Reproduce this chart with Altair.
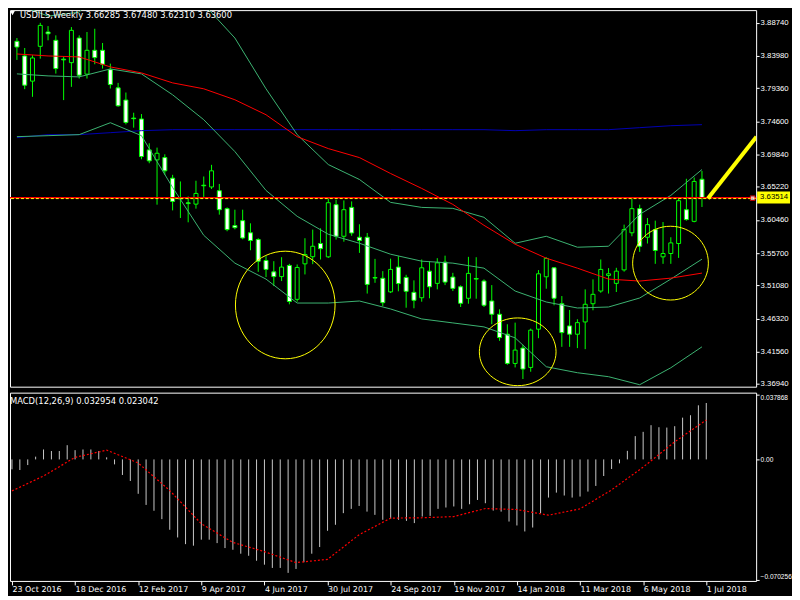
import altair as alt
import pandas as pd

FONT = "DejaVu Sans"
AXFONT = "Liberation Sans"

# ---------------- data ----------------
week_labels = ["23 Oct 2016", "18 Dec 2016", "12 Feb 2017", "9 Apr 2017", "4 Jun 2017",
               "30 Jul 2017", "24 Sep 2017", "19 Nov 2017", "14 Jan 2018", "11 Mar 2018",
               "6 May 2018", "1 Jul 2018"]

opens = [3.8606, 3.8396, 3.8035, 3.8534, 3.8739, 3.8620, 3.8350, 3.8300, 3.8653, 3.8135,
         3.8477, 3.8477, 3.8200, 3.7939, 3.7763, 3.7505, 3.7492, 3.7049, 3.6906, 3.6939,
         3.6644, 3.6355, 3.6290, 3.6272, 3.6543, 3.6518, 3.6464, 3.6207, 3.5964, 3.6035,
         3.5861, 3.5764, 3.5464, 3.5301, 3.5233, 3.5393, 3.4907, 3.5416, 3.5518, 3.5707,
         3.5516, 3.6264, 3.5811, 3.6225, 3.5797, 3.5797, 3.5220, 3.5209, 3.5014, 3.5369,
         3.5221, 3.5007, 3.4930, 3.5311, 3.5136, 3.5440, 3.5226, 3.5087, 3.4922, 3.5205,
         3.5169, 3.4883, 3.4693, 3.4407, 3.3988, 3.4208, 3.3931, 3.4479, 3.5230, 3.5359,
         3.4844, 3.4526, 3.4407, 3.4583, 3.4844, 3.5026, 3.5250, 3.5136, 3.5329, 3.5861,
         3.6207, 3.5797, 3.5907, 3.5516, 3.5564, 3.5707, 3.6192, 3.6025, 3.66285]

highs = [3.8653, 3.8510, 3.8406, 3.8871, 3.8824, 3.8691, 3.8382, 3.8810, 3.8691, 3.8739,
         3.8786, 3.8582, 3.8286, 3.8010, 3.7872, 3.7582, 3.7563, 3.7144, 3.7082, 3.6986,
         3.6692, 3.6597, 3.6382, 3.6607, 3.6668, 3.6835, 3.6561, 3.6225, 3.6192, 3.6192,
         3.5997, 3.5783, 3.5526, 3.5454, 3.5511, 3.5416, 3.5407, 3.5783, 3.5907, 3.5925,
         3.6354, 3.6335, 3.6325, 3.6311, 3.5983, 3.5858, 3.5487, 3.5311, 3.5490, 3.5526,
         3.5259, 3.5179, 3.5478, 3.5454, 3.5497, 3.5533, 3.5287, 3.5107, 3.5516, 3.5511,
         3.5193, 3.5111, 3.4764, 3.4550, 3.4573, 3.4255, 3.4487, 3.5326, 3.5511, 3.5369,
         3.4954, 3.4754, 3.4622, 3.5050, 3.5193, 3.5478, 3.5354, 3.5359, 3.5978, 3.6350,
         3.6264, 3.6073, 3.6035, 3.6015, 3.5797, 3.6358, 3.6635, 3.6654, 3.67480]

lows = [3.8339, 3.7920, 3.7810, 3.8357, 3.8620, 3.8143, 3.7763, 3.7953, 3.8072, 3.8072,
        3.8277, 3.8215, 3.7929, 3.7668, 3.7415, 3.7368, 3.6915, 3.6858, 3.6264, 3.6692,
        3.6182, 3.6073, 3.6011, 3.6207, 3.6372, 3.6489, 3.6121, 3.5883, 3.5911, 3.5768,
        3.5611, 3.5301, 3.5226, 3.5097, 3.5169, 3.4836, 3.4873, 3.5264, 3.5411, 3.5478,
        3.5501, 3.5764, 3.5733, 3.5818, 3.5573, 3.4990, 3.5144, 3.4812, 3.4997, 3.5022,
        3.4787, 3.4779, 3.4873, 3.4922, 3.5050, 3.5111, 3.5026, 3.4797, 3.4844, 3.4916,
        3.4797, 3.4550, 3.4312, 3.3969, 3.3931, 3.3765, 3.3869, 3.4350, 3.5059, 3.4822,
        3.4226, 3.4226, 3.4208, 3.4193, 3.4750, 3.5001, 3.4990, 3.5012, 3.5304, 3.5811,
        3.5587, 3.5707, 3.5416, 3.5416, 3.5416, 3.5501, 3.6035, 3.6011, 3.62310]

closes = [3.8524, 3.7977, 3.8367, 3.8834, 3.8714, 3.8215, 3.8340, 3.8763, 3.8120, 3.8477,
          3.8372, 3.8277, 3.7986, 3.7682, 3.7443, 3.7497, 3.6954, 3.6892, 3.7001, 3.6749,
          3.6311, 3.6345, 3.6280, 3.6425, 3.6535, 3.6749, 3.6192, 3.5907, 3.5935, 3.5787,
          3.5750, 3.5454, 3.5336, 3.5233, 3.5369, 3.4876, 3.5364, 3.5550, 3.5668, 3.5633,
          3.6292, 3.5811, 3.6192, 3.5858, 3.5750, 3.5121, 3.5212, 3.4859, 3.5336, 3.5133,
          3.5022, 3.4893, 3.5359, 3.5087, 3.5430, 3.5154, 3.5064, 3.4850, 3.5279, 3.5197,
          3.4822, 3.4693, 3.4359, 3.3988, 3.4179, 3.3908, 3.4465, 3.5273, 3.5493, 3.4922,
          3.4430, 3.4407, 3.4573, 3.4836, 3.4979, 3.5336, 3.5273, 3.5311, 3.5907, 3.6207,
          3.5668, 3.5978, 3.5607, 3.5564, 3.5716, 3.6321, 3.6050, 3.6597, 3.63600]

# indicator readings, every 4th week
ind_index = list(range(0, 89, 4))
ma_red = [3.8424, 3.8396, 3.8382, 3.8239, 3.8153, 3.8010, 3.7925, 3.7768, 3.7553, 3.7239,
          3.7068, 3.6939, 3.6711, 3.6497, 3.6268, 3.5968, 3.5697, 3.5497, 3.5354, 3.5197,
          3.5169, 3.5211, 3.5283]
ma_blue = [3.7225, 3.7268, 3.7268, 3.7296, 3.7325, 3.7339, 3.7339, 3.7339, 3.7339, 3.7339,
           3.7339, 3.7339, 3.7339, 3.7339, 3.7339, 3.7339, 3.7325, 3.7339, 3.7339, 3.7339,
           3.7368, 3.7396, 3.7411]
bb_upper = [3.9138, 3.8967, 3.9024, 3.9524, 3.9810, 3.9524, 3.9138, 3.8653, 3.7925, 3.7268,
            3.6839, 3.6625, 3.6297, 3.6225, 3.6211, 3.6083, 3.5711, 3.5811, 3.5654, 3.5668,
            3.6125, 3.6397, 3.6768]
bb_middle = [3.8139, 3.8110, 3.8096, 3.8210, 3.8139, 3.7839, 3.7482, 3.7025, 3.6468, 3.6097,
             3.5840, 3.5711, 3.5554, 3.5454, 3.5426, 3.5354, 3.5026, 3.4869, 3.4783, 3.4797,
             3.4926, 3.5197, 3.5483]
bb_lower = [3.7239, 3.7253, 3.7268, 3.7439, 3.7253, 3.6511, 3.5825, 3.5426, 3.5197, 3.4854,
            3.4854, 3.4883, 3.4769, 3.4626, 3.4569, 3.4512, 3.4355, 3.3941, 3.3855, 3.3798,
            3.3683, 3.3926, 3.4226]

macd_main = [-0.0058, -0.0062, -0.0033, 0.0016, 0.0058, 0.0049, 0.0049, 0.0083, 0.0054, 0.0058,
             0.0058, 0.0049, 0.0012, -0.0029, -0.0091, -0.0126, -0.0201, -0.0266, -0.0300, -0.0349,
             -0.0411, -0.0456, -0.0495, -0.0504, -0.0469, -0.0469, -0.0489, -0.0518, -0.0528, -0.0551,
             -0.0563, -0.0592, -0.0615, -0.0634, -0.0634, -0.0663, -0.0640, -0.0601, -0.0551, -0.0512,
             -0.0417, -0.0382, -0.0314, -0.0289, -0.0272, -0.0305, -0.0324, -0.0353, -0.0347, -0.0353,
             -0.0359, -0.0372, -0.0334, -0.0330, -0.0289, -0.0281, -0.0275, -0.0289, -0.0262, -0.0237,
             -0.0256, -0.0299, -0.0305, -0.0363, -0.0386, -0.0421, -0.0398, -0.0314, -0.0223, -0.0194,
             -0.0211, -0.0223, -0.0217, -0.0188, -0.0155, -0.0097, -0.0056, -0.0023, 0.0050, 0.0136,
             0.0161, 0.0200, 0.0188, 0.0186, 0.0194, 0.0244, 0.0258, 0.0316, 0.032954]
macd_signal = [-0.0184, -0.0097, 0.0012, 0.0054, -0.0021, -0.0182, -0.0376, -0.0485, -0.0539, -0.0603,
               -0.0584, -0.0440, -0.0343, -0.0341, -0.0334, -0.0287, -0.0293, -0.0326, -0.0289, -0.0178,
               -0.0045, 0.0103, 0.023042]

price_ticks = [3.88740, 3.83980, 3.79360, 3.74600, 3.69840, 3.65220, 3.60460,
               3.55700, 3.51080, 3.46320, 3.41560, 3.36940]
macd_ticks = [0.037868, 0.0, -0.070256]

bid_price = 3.63514
hline_price = 3.6363
header = "USDILS,Weekly  3.66285 3.67480 3.62310 3.63600"
macd_title = "MACD(12,26,9) 0.032954 0.023042"

# annotations (user drawings)
circle_x = [34.47, 64.33, 83.96]
circle_y = [3.4826, 3.4155, 3.5426]
circle_w = [100, 77, 76]
circle_h = [108, 68, 74]
trend_x = [88.76, 95.0]
trend_y = [3.6354, 3.7238]

# ---------------- frames ----------------
candles = pd.DataFrame({"i": list(range(len(opens))), "o": opens, "h": highs,
                        "l": lows, "c": closes})
candles["dir"] = ["up" if c > o else "down" for o, c in zip(opens, closes)]

ind = pd.DataFrame({"i": ind_index, "ma_red": ma_red, "ma_blue": ma_blue,
                    "bb_upper": bb_upper, "bb_middle": bb_middle, "bb_lower": bb_lower})

macd_df = pd.DataFrame({"i": list(range(len(macd_main))), "m": macd_main})
macd_df["zero"] = 0.0
sig_df = pd.DataFrame({"i": ind_index, "s": macd_signal})

shapes, sizes = [], []
for w, h in zip(circle_w, circle_h):
    d = max(w, h)
    rx, ry = w / d, h / d
    shapes.append(f"M{-rx:.3f},0A{rx:.3f},{ry:.3f} 0 1,0 {rx:.3f},0A{rx:.3f},{ry:.3f} 0 1,0 {-rx:.3f},0Z")
    sizes.append(d * d)
circ = pd.DataFrame({"x": circle_x, "y": circle_y, "shape": shapes, "size": sizes})

trend = pd.DataFrame({"x": [trend_x[0]], "x2": [trend_x[1]], "y": [trend_y[0]], "y2": [trend_y[1]]})

# ---------------- scales / axes ----------------
W = 749
xs = alt.Scale(domain=[-0.25, 94.32], nice=False, zero=False)
ys = alt.Scale(domain=[3.3655, 3.9053], nice=False, zero=False)
ms = alt.Scale(domain=[-0.0710, 0.0390], nice=False, zero=False)

PA = alt.Axis(orient="right", values=price_ticks, format=".5f", tickSize=3,
              tickColor="#FFFFFF", labelColor="#FFFFFF", labelFont=AXFONT,
              labelFontSize=7.8, labelPadding=1, domain=False, grid=False,
              title=None, labelOverlap=False)

date_expr = "[" + ",".join(f"'{d}'" for d in week_labels) + "][round(datum.value / 8)]"
DA = alt.Axis(orient="bottom", values=list(range(0, 89, 8)), labelExpr=date_expr,
              tickSize=4, tickColor="#FFFFFF", labelColor="#FFFFFF", labelFont=FONT,
              labelFontSize=8, labelAlign="left", labelPadding=1, labelFlush=False,
              labelOverlap=False, domain=False, grid=False, title=None)

MA = alt.Axis(orient="right", values=macd_ticks,
              labelExpr="datum.value == 0 ? '0.00' : format(datum.value, '.6f')",
              labelBaseline={"expr": "datum.value > 0.01 ? 'top' : (datum.value < -0.01 ? 'bottom' : 'middle')"},
              tickSize=3, tickColor="#FFFFFF", labelColor="#FFFFFF", labelFont=AXFONT,
              labelFontSize=6.6, labelPadding=1, domain=False, grid=False, title=None,
              labelOverlap=False)

X = alt.X("i:Q", scale=xs, axis=None)


def Yp(field):
    return alt.Y(field, scale=ys, axis=PA)


def Ym(field):
    return alt.Y(field, scale=ms, axis=MA)


def Xm(field):
    return alt.X(field, scale=xs, axis=DA)


# ---------------- main panel ----------------
wicks = alt.Chart(candles).mark_rule(color="#00FF00", strokeWidth=1, clip=True).encode(
    x=X, y=Yp("l:Q"), y2="h:Q")

bodies = alt.Chart(candles).mark_bar(width=4, stroke="#00FF00", strokeWidth=1, clip=True).encode(
    x=X, y=Yp("o:Q"), y2="c:Q",
    fill=alt.Fill("dir:N", scale=alt.Scale(domain=["up", "down"], range=["#000000", "#FFFFFF"]),
                  legend=None))


def ind_line(col, color):
    return alt.Chart(ind).mark_line(color=color, strokeWidth=1, clip=True).encode(
        x=X, y=Yp(f"{col}:Q"))


lines = [ind_line("ma_blue", "#0000B4"), ind_line("bb_upper", "#3CB371"),
         ind_line("bb_middle", "#3CB371"), ind_line("bb_lower", "#3CB371"),
         ind_line("ma_red", "#FF0000")]

hline = alt.Chart(pd.DataFrame({"p": [hline_price]})).mark_rule(
    color="#FF0000", strokeWidth=1.5).encode(y=Yp("p:Q"))
bidline = alt.Chart(pd.DataFrame({"p": [bid_price]})).mark_rule(
    color="#FFFF00", strokeWidth=1, strokeDash=[3, 2]).encode(y=Yp("p:Q"))

trendline = alt.Chart(trend).mark_rule(color="#FFFF00", strokeWidth=4, clip=True).encode(
    x=alt.X("x:Q", scale=xs, axis=None), x2="x2:Q", y=Yp("y:Q"), y2="y2:Q")

circles = alt.Chart(circ).mark_point(filled=False, color="#FFFF00", strokeWidth=1,
                                     opacity=1, clip=True).encode(
    x=alt.X("x:Q", scale=xs, axis=None), y=Yp("y:Q"),
    shape=alt.Shape("shape:N", scale=None), size=alt.Size("size:Q", scale=None))

marker = alt.Chart(pd.DataFrame({"p": [bid_price + 0.0006]})).mark_square(
    size=22, filled=True, fill="#FFFFFF", stroke="#FF0000", strokeWidth=1).encode(
    x=alt.value(745.5), y=Yp("p:Q"))

price_box = alt.Chart(pd.DataFrame({"p": [bid_price]})).transform_calculate(
    top="datum.p + 0.0101", bot="datum.p - 0.0069").mark_rect(color="#FFFF00").encode(
    x=alt.value(750), x2=alt.value(783), y=Yp("top:Q"), y2="bot:Q")

price_text = alt.Chart(pd.DataFrame({"p": [bid_price], "lab": [f"{bid_price:.5f}"]})).transform_calculate(
    mid="datum.p + 0.0016").mark_text(align="left", baseline="middle", color="#000000",
                                       font=AXFONT, fontSize=7.8).encode(
    x=alt.value(753), y=Yp("mid:Q"), text="lab:N")

head_tri = alt.Chart(pd.DataFrame({"a": [0]})).mark_point(
    shape="triangle-down", filled=True, color="#FFFFFF", size=22, opacity=1).encode(
    x=alt.value(2.5), y=alt.value(3))

head_text = alt.Chart(pd.DataFrame({"t": [header]})).mark_text(
    align="left", baseline="middle", color="#FFFFFF", font=FONT, fontSize=8.4).encode(
    x=alt.value(10), y=alt.value(4.8), text="t:N")

main = alt.layer(wicks, bodies, *lines, hline, bidline, trendline, circles, marker,
                 price_box, price_text, head_tri, head_text).properties(width=W, height=378)

# ---------------- MACD panel ----------------
hist = alt.Chart(macd_df).mark_rule(color="#C8C8C8", strokeWidth=1).encode(
    x=Xm("i:Q"), y=Ym("m:Q"), y2="zero:Q")

signal = alt.Chart(sig_df).mark_line(color="#FF0000", strokeWidth=1.2, strokeDash=[2, 2]).encode(
    x=Xm("i:Q"), y=Ym("s:Q"))

macd_text = alt.Chart(pd.DataFrame({"t": [macd_title]})).mark_text(
    align="left", baseline="middle", color="#FFFFFF", font=FONT, fontSize=8.4).encode(
    x=alt.value(0), y=alt.value(8.7), text="t:N")

macd = alt.layer(hist, signal, macd_text).properties(width=W, height=189)

chart = alt.vconcat(main, macd, spacing=3).resolve_scale(
    x="independent", y="independent").properties(
    padding=0, background="#000000").configure_view(stroke="#FFFFFF", strokeWidth=1)

chart.save("out.html", embed_options={"renderer": "svg", "actions": False})
